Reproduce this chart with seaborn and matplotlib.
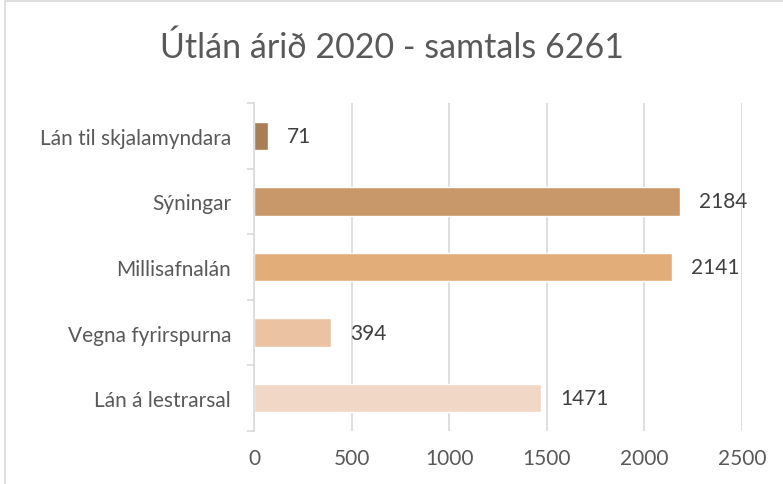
import matplotlib
matplotlib.use("Agg")
import matplotlib.pyplot as plt
import seaborn as sns
import pandas as pd
from matplotlib.patches import Rectangle

categories = ["Lán til skjalamyndara", "Sýningar", "Millisafnalán", "Vegna fyrirspurna", "Lán á lestrarsal"]
values = [71, 2184, 2141, 394, 1471]
colors = ["#A97E55", "#C8976A", "#E3AD79", "#ECC3A2", "#F1D7C6"]
xticks = [0, 500, 1000, 1500, 2000, 2500]
title = "Útlán árið 2020 - samtals 6261"

sns.set_theme(style="white")
plt.rcParams["font.family"] = ["Lato", "DejaVu Sans"]
txt = "#595959"
grid = "#D9D9D9"

df = pd.DataFrame({"cat": categories, "val": values})

fig = plt.figure(figsize=(7.83, 4.85), dpi=100)
ax = fig.add_axes([254 / 783, 1 - 432 / 485, 488 / 783, 328 / 485])

sns.barplot(data=df, x="val", y="cat", hue="cat", palette=colors, order=categories,
            hue_order=categories, legend=False, width=0.43, ax=ax, saturation=1)

ax.set_xlim(0, 2500)
ax.set_ylim(len(categories) - 0.5, -0.5)
ax.set_xticks(xticks)
ax.set_xticklabels([str(t) for t in xticks], fontsize=15, color=txt)
ax.set_xlabel("")
ax.set_ylabel("")
ax.tick_params(axis="x", length=0, pad=12)
ax.set_yticks(range(len(categories)))
ax.set_yticklabels(categories, fontsize=15, color=txt)
ax.tick_params(axis="y", length=0, pad=16.5)
# category boundary ticks
ax.set_yticks([i - 0.5 for i in range(len(categories) + 1)], minor=True)
ax.tick_params(axis="y", which="minor", length=5, width=1.2, color=grid, left=True)

ax.grid(axis="x", color=grid, linewidth=1.2)
ax.set_axisbelow(True)
for s in ["top", "right", "bottom"]:
    ax.spines[s].set_visible(False)
ax.spines["left"].set_color(grid)
ax.spines["left"].set_linewidth(1.2)

for i, v in enumerate(values):
    ax.annotate(str(v), xy=(v, i), xytext=(19, 0), textcoords="offset pixels",
                va="center", ha="left", fontsize=15, color="#404040")

fig.text(0.5, 1 - 48 / 485, title, ha="center", va="center", fontsize=24.5, color=txt)

fig.patches.append(Rectangle((5 / 783, -0.1), 2, 1.1 - 2 / 485, transform=fig.transFigure,
                             fill=False, edgecolor=grid, linewidth=1.2))

fig.savefig("out.png", dpi=100)
